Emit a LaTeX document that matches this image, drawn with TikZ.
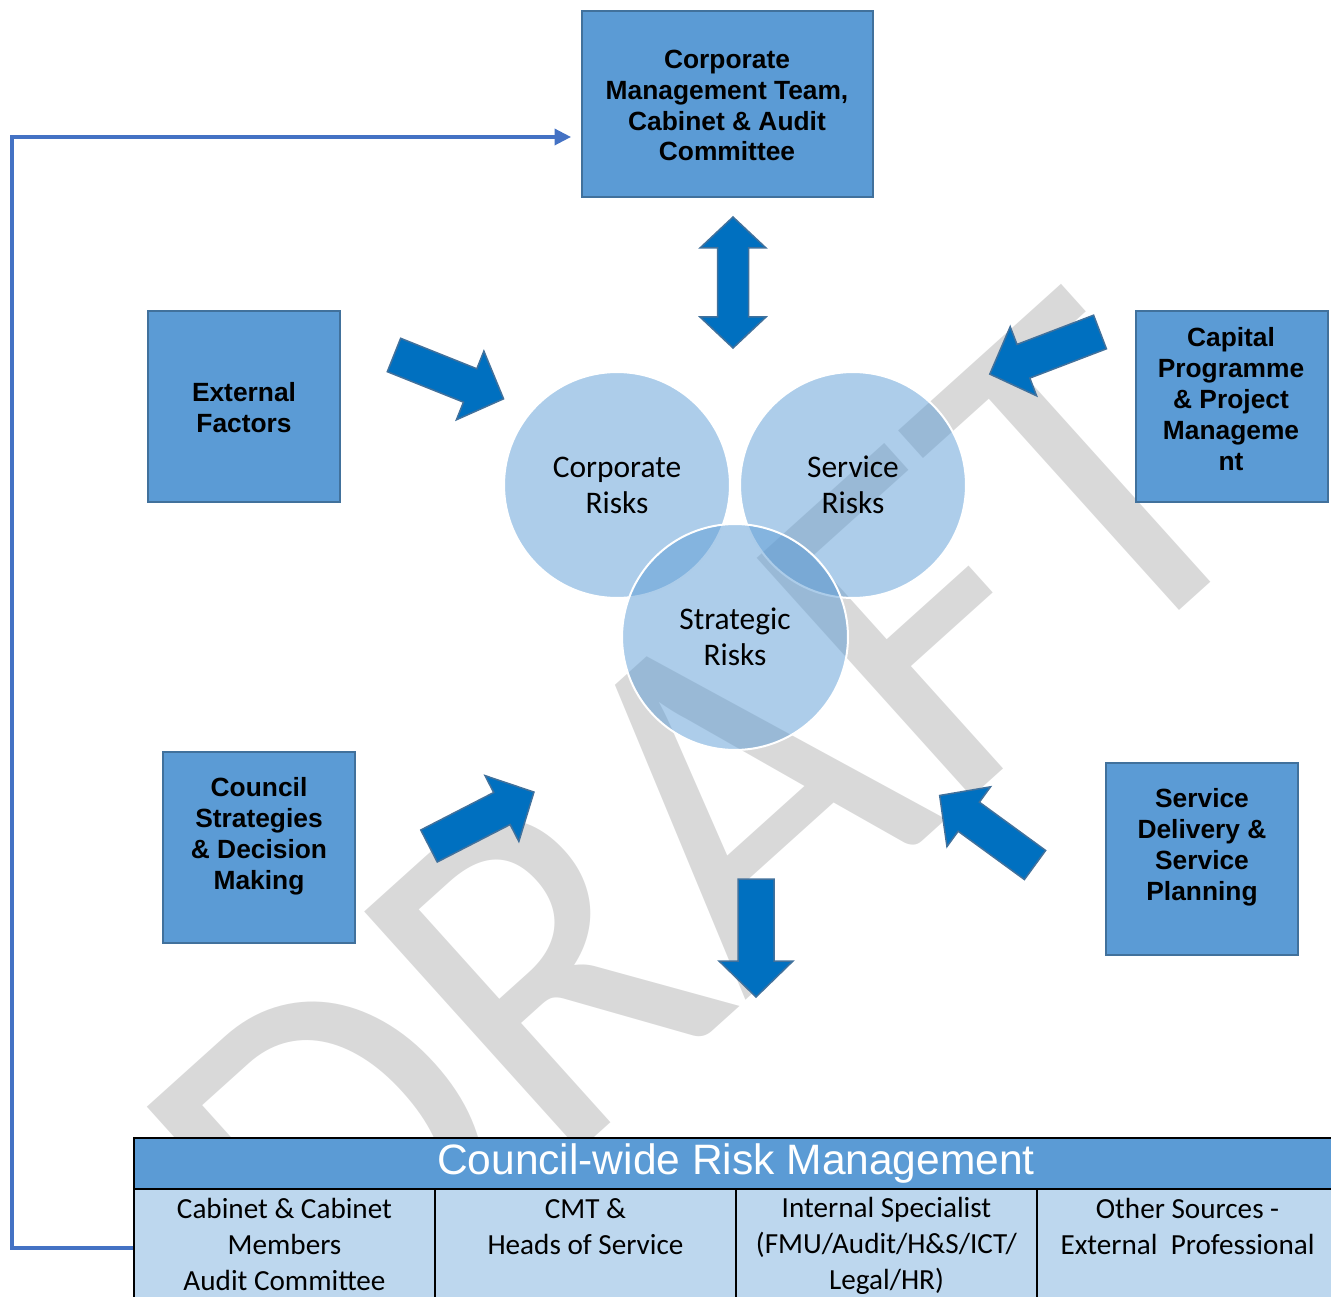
\documentclass[tikz,border=0pt]{standalone}
\usepackage{fontspec}
\setmainfont{Liberation Sans}
\newfontfamily\calibri{Carlito}
\usetikzlibrary{arrows.meta}
\usepackage{xcolor}

\definecolor{boxblue}{HTML}{5B9BD5}
\definecolor{boxedge}{HTML}{41719C}
\definecolor{arrowblue}{HTML}{0070C0}
\definecolor{linkblue}{HTML}{4472C4}
\definecolor{cellblue}{HTML}{BDD7EE}
\definecolor{draftgray}{HTML}{D9D9D9}

\tikzset{
  box/.style={draw=boxedge, line width=0.04cm, fill=boxblue, inner sep=0pt},
  boxlabel/.style={align=center, inner sep=0pt, font=\fontsize{15}{17.6}\selectfont\bfseries},
  risk/.style={circle, minimum size=4.52cm, inner sep=0pt, draw=white, line width=0.04cm,
    fill=boxblue, fill opacity=0.5, text opacity=1, align=center,
    font=\calibri\fontsize{17.9}{20.4}\selectfont},
  bigarrow/.style={draw=boxedge, line width=0.03cm, fill=arrowblue},
  headrow/.style={draw=black, line width=0.04cm, fill=boxblue, minimum width=24.08cm,
    minimum height=1.02cm, inner sep=0pt, text=white, font=\fontsize{24.2}{28}\selectfont},
  cell/.style={draw=black, line width=0.04cm, fill=cellblue, minimum width=6.02cm,
    minimum height=2.36cm, inner sep=0pt},
  celltext/.style={align=center, anchor=north, inner sep=0pt, font=\calibri\fontsize{16.6}{20.4}\selectfont},
  feedback/.style={draw=linkblue, line width=0.07cm, -{Triangle[length=0.33cm, width=0.32cm]}},
  watermark/.style={text=draftgray, inner sep=0pt, rotate=42, yscale=1.06,
    font=\calibri\fontsize{269}{269}\selectfont},
}

% seta grossa: ponto de partida e angulo
\newcommand{\blockarrow}[2]{%
  \begin{scope}[shift={#1}, rotate=#2]
    \draw[bigarrow] (0,-18) -- (82,-18) -- (82,-37) -- (118,0) -- (82,37) -- (82,18) -- (0,18) -- cycle;
  \end{scope}}

\begin{document}
\begin{tikzpicture}[x=0.02cm, y=-0.02cm]
\useasboundingbox (0,0) rectangle (1331,1297);
\clip (0,0) rectangle (1331,1297);

% marca d'agua ao fundo
\node[watermark] (draft) at (702,824) {DRAFT};

% caixas de origem
\node[box, minimum width=5.82cm, minimum height=3.72cm] (cmt) at (727.5,104) {};
\node[boxlabel] (cmtlabel) at (727,105.5) {Corporate\\Management Team,\\Cabinet \& Audit\\Committee};
\node[box, minimum width=3.84cm, minimum height=3.82cm] (external) at (244,406.5) {};
\node[boxlabel] (externallabel) at (244,408) {External\\Factors};
\node[box, minimum width=3.84cm, minimum height=3.82cm] (capital) at (1232,406.5) {};
\node[boxlabel] (capitallabel) at (1231,399) {Capital\\Programme\\\& Project\\Manageme\\nt};
\node[box, minimum width=3.84cm, minimum height=3.82cm] (council) at (259,847.5) {};
\node[boxlabel] (councillabel) at (259,836) {Council\\Strategies\\\& Decision\\Making};
\node[box, minimum width=3.84cm, minimum height=3.84cm] (delivery) at (1202,859) {};
\node[boxlabel] (deliverylabel) at (1202,847) {Service\\Delivery \&\\Service\\Planning};

% os tres circulos de risco
\node[risk] (corporate) at (617,485) {Corporate\\Risks};
\node[risk] (service) at (853,485) {Service\\Risks};
\node[risk] (strategic) at (735,637) {Strategic\\Risks};

% setas grossas
\draw[bigarrow] (733,217) -- (766,248) -- (748.5,248) -- (748.5,317) -- (766,317) -- (733,348)
  -- (700,317) -- (717.5,317) -- (717.5,248) -- (700,248) -- cycle; % seta dupla
\blockarrow{(394,355)}{-21.8}   % External Factors
\blockarrow{(1100,332)}{-159.1} % Capital Programme
\blockarrow{(429,846)}{27.2}    % Council Strategies
\blockarrow{(1035,865)}{143.9}  % Service Delivery
\blockarrow{(756,879)}{-90}     % para baixo

% tabela de baixo
\node[headrow] (riskhead) at (736,1163.5) {\raisebox{-0.07cm}{Council-wide Risk Management}};
\node[cell] (cabinet) at (284.5,1248) {};
\node[cell] (cmtcell) at (585.5,1248) {};
\node[cell] (internal) at (886.5,1248) {};
\node[cell] (other) at (1187.5,1248) {};
\node[celltext] at (284.5,1198) {Cabinet \& Cabinet\\Members\\Audit Committee};
\node[celltext] at (585.5,1198) {CMT \&\\Heads of Service};
\node[celltext] at (886.5,1197) {Internal Specialist\\(FMU/Audit/H\&S/ICT/\\Legal/HR)};
\node[celltext] at (1187.5,1198) {Other Sources -\\External\ \ Professional};

% linha de retorno ate a caixa de cima
\draw[feedback] (cabinet.west) -- (12,1248) |- ([xshift=-0.2cm, yshift=-0.66cm]cmt.west);
\end{tikzpicture}
\end{document}
